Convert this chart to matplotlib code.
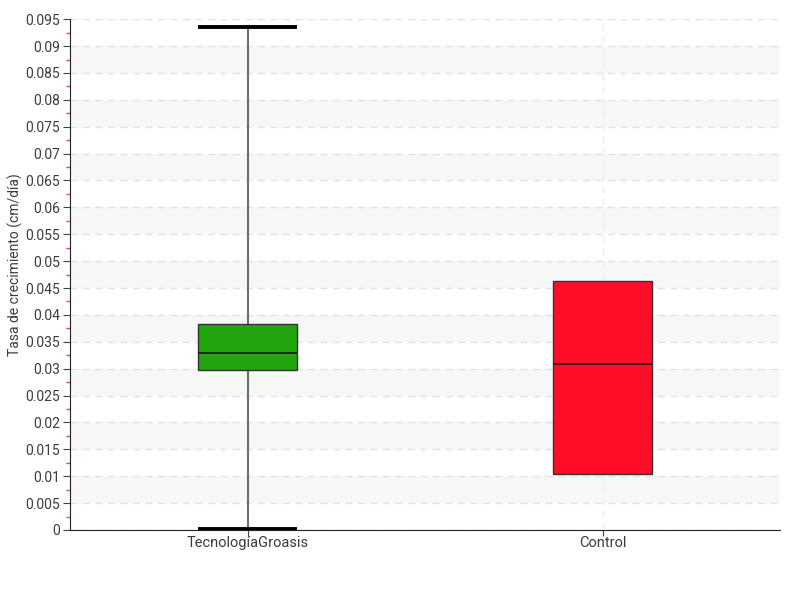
import matplotlib
matplotlib.use("Agg")
import matplotlib.pyplot as plt
from matplotlib.ticker import MultipleLocator, FuncFormatter

plt.rcParams['font.family'] = ['Roboto', 'DejaVu Sans']

categories = ["TecnologíaGroasis", "Control"]
whisker_low = [0.0002, 0.0104]
q1 = [0.0297, 0.0104]
median = [0.0329, 0.0309]
q3 = [0.0383, 0.0463]
whisker_high = [0.0935, 0.0463]
colors = ["#22a50e", "#ff0d29"]
ylabel = "Tasa de crecimiento (cm/día)"

fig = plt.figure(figsize=(8, 6), dpi=100)
ax = fig.add_axes([0.0875, 0.1167, 0.8875, 0.8513])

# alternating bands
for lo in [0.005 + 0.01 * i for i in range(9)]:
    ax.axhspan(lo, lo + 0.005, color="#f7f7f7", zorder=0, lw=0)

stats = []
for i, c in enumerate(categories):
    stats.append(dict(label=c, whislo=whisker_low[i], q1=q1[i], med=median[i],
                      q3=q3[i], whishi=whisker_high[i], fliers=[]))

bp = ax.bxp(stats, positions=[1, 2], widths=0.28, patch_artist=True,
            showfliers=False,
            boxprops=dict(linewidth=1.0),
            medianprops=dict(color="#1a1a1a", linewidth=1.2),
            whiskerprops=dict(color="#6e6e6e", linewidth=1.5),
            capprops=dict(color="black", linewidth=2.8),
            capwidths=0.27)
for patch, col in zip(bp['boxes'], colors):
    patch.set_facecolor(col)
    patch.set_edgecolor("#333333")
    patch.set_zorder(3)
for m in bp['medians']:
    m.set_zorder(4)
for i in range(len(categories)):
    if whisker_low[i] == q1[i] and whisker_high[i] == q3[i]:
        for art in bp['caps'][2 * i:2 * i + 2] + bp['whiskers'][2 * i:2 * i + 2]:
            art.set_visible(False)

ax.set_xlim(0.5, 2.5)
ax.set_ylim(0, 0.095)
ax.yaxis.set_major_locator(MultipleLocator(0.005))
ax.yaxis.set_minor_locator(MultipleLocator(0.0025))
ax.yaxis.set_major_formatter(FuncFormatter(lambda v, p: "0" if abs(v) < 1e-12 else ("%.3f" % v).rstrip("0")))
ax.grid(axis="y", which="major", color="#e2e2e2", linestyle=(0, (5, 4)), linewidth=1, zorder=1)
ax.grid(axis="x", which="major", color="#ececec", linestyle=(0, (5, 4)), linewidth=1, zorder=1)
ax.set_axisbelow(True)

for s in ["top", "right"]:
    ax.spines[s].set_visible(False)
ax.spines["left"].set_color("#222222")
ax.spines["bottom"].set_color("#222222")

ax.tick_params(axis="y", which="major", length=5, color="#444444", labelcolor="#3c3c3c", labelsize=10, pad=2)
ax.tick_params(axis="y", which="minor", length=3, color="#ff4040", width=1)
ax.tick_params(axis="x", which="major", length=4, color="#444444", labelcolor="#3c3c3c", labelsize=10.5, pad=0)
ax.set_ylabel(ylabel, color="#3c3c3c", fontsize=10, va="center")
ax.yaxis.set_label_coords(-0.077, 0.52)

fig.savefig("out.png", dpi=100)
